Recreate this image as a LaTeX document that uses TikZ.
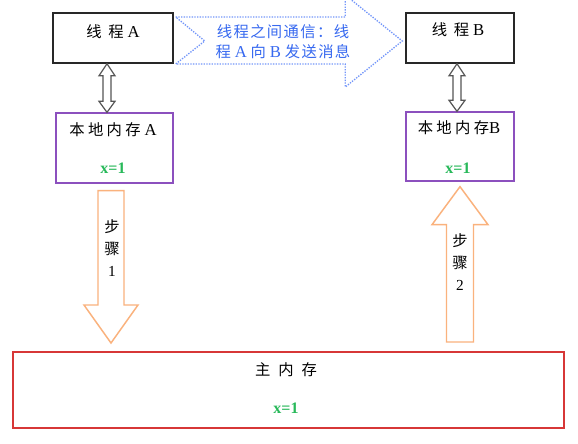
\documentclass[tikz,border=0pt]{standalone}
\usepackage{fontspec}
\setmainfont{Liberation Serif}
\newfontfamily\cjk{Noto Sans CJK SC}
\newfontfamily\cjkls[LetterSpace=9]{Noto Sans CJK SC}
\usetikzlibrary{calc}
\definecolor{boxblack}{RGB}{40,40,40}
\definecolor{lpurple}{RGB}{140,80,190}
\definecolor{mred}{RGB}{215,55,55}
\definecolor{sorange}{RGB}{250,178,125}
\definecolor{dblue}{RGB}{115,150,250}
\definecolor{tblue}{RGB}{55,105,240}
\definecolor{xgreen}{RGB}{40,185,90}
\definecolor{agray}{RGB}{85,85,85}
\newcommand{\zh}[1]{{\cjk #1}}
\newcommand{\gp}{\hspace{2.5pt}}
\begin{document}
\begin{tikzpicture}[x=0.75pt,y=-0.75pt,
  thread/.style={draw=boxblack, line width=1.1pt, fill=white, inner sep=0, minimum height=37.5pt},
  local/.style={draw=lpurple, line width=1pt, fill=white, inner sep=0},
  mainmem/.style={draw=mred, line width=1.5pt, fill=white, inner sep=0},
  lbl/.style={font=\fontsize{11.5}{13}\selectfont, inner sep=0},
  xval/.style={font=\bfseries\fontsize{12}{14}\selectfont, text=xgreen, inner sep=0},
  stepar/.style={draw=sorange, line width=1.1pt, fill=white},
  steptxt/.style={font=\fontsize{11.5}{16.5}\selectfont, align=center, inner sep=0},
  dblar/.style={draw=agray, line width=0.9pt, fill=white},
  msgar/.style={draw=dblue, line width=1pt, densely dotted, fill=white},
  msgtxt/.style={font=\fontsize{11.5}{15}\selectfont, text=tblue, align=center, inner sep=0}]
\useasboundingbox (0,0) rectangle (578,443);
\fill[white] (0,0) rectangle (578,443);

% boxes
\node[thread, minimum width=90pt] (ta) at (113,38) {};
\node[thread, minimum width=81pt] (tb) at (460,38) {};
\node[local, minimum width=87.75pt, minimum height=52.5pt] (la) at (114.5,148) {};
\node[local, minimum width=81pt, minimum height=51.75pt] (lb) at (460,146.5) {};
\node[mainmem, minimum width=413.25pt, minimum height=57pt] (mm) at (288.5,390) {};

% labels
\node[lbl] (tal) at (113,32) {\zh{线\hspace{5pt}程} {\fontsize{12.5}{13}\selectfont A}};
\node[lbl] (tbl) at (458,30) {\zh{线\hspace{5pt}程} {\fontsize{12.5}{13}\selectfont B}};
\node[lbl] (lal) at (113,130) {\zh{本\gp 地\gp 内\gp 存} {\fontsize{12.5}{13}\selectfont A}};
\node[xval] (lax) at (113,168) {x=1};
\node[lbl] (lbl) at (459,128) {\zh{本\gp 地\gp 内\gp 存}{\fontsize{12.5}{13}\selectfont B}};
\node[xval] (lbx) at (458,168) {x=1};
\node[lbl] (mml) at (286,370) {\zh{主\hspace{6pt}内\hspace{6pt}存}};
\node[xval] (mmx) at (286,408) {x=1};

% double arrows thread <-> local
\coordinate (d1t) at ($(ta.south)+(-6,0)$);
\coordinate (d1b) at (d1t |- la.north);
\draw[dblar] (d1t) -- ($(d1t)+(8,12)$) -- ($(d1t)+(4,12)$) -- ($(d1b)+(4,-11)$) -- ($(d1b)+(8,-11)$) -- (d1b)
  -- ($(d1b)+(-8,-11)$) -- ($(d1b)+(-4,-11)$) -- ($(d1t)+(-4,12)$) -- ($(d1t)+(-8,12)$) -- cycle;
\coordinate (d2t) at ($(tb.south)+(-3,0)$);
\coordinate (d2b) at (d2t |- lb.north);
\draw[dblar] (d2t) -- ($(d2t)+(8,12)$) -- ($(d2t)+(4,12)$) -- ($(d2b)+(4,-11)$) -- ($(d2b)+(8,-11)$) -- (d2b)
  -- ($(d2b)+(-8,-11)$) -- ($(d2b)+(-4,-11)$) -- ($(d2t)+(-4,12)$) -- ($(d2t)+(-8,12)$) -- cycle;

% message arrow
\coordinate (mL) at ($(ta.east)+(2,3)$);
\coordinate (mR) at ($(tb.west)+(-3,3)$);
\draw[msgar] ($(mL)+(0,-24)$) -- ($(mR)+(-57,-24)$) -- ($(mR)+(-57,-46)$) -- (mR) -- ($(mR)+(-57,46)$)
  -- ($(mR)+(-57,23)$) -- ($(mL)+(0,23)$) -- ($(mL)+(29,0)$) -- cycle;
\node[msgtxt] (msg) at (283,42) {{\cjkls 线程之间通信：线}\\{\cjkls 程} {\fontsize{12.5}{15}\selectfont A} {\cjkls 向} {\fontsize{12.5}{15}\selectfont B} {\cjkls 发送消息}};

% step 1 arrow (local A -> main)
\coordinate (s1top) at ($(la.south)+(-3.5,7)$);
\coordinate (s1tip) at ($(s1top |- mm.north)+(0,-8)$);
\draw[stepar] ($(s1top)+(-13,0)$) -- ($(s1top)+(13,0)$) -- ($(s1tip)+(13,-38)$) -- ($(s1tip)+(27,-38)$) -- (s1tip)
  -- ($(s1tip)+(-27,-38)$) -- ($(s1tip)+(-13,-38)$) -- cycle;
\node[steptxt] (s1l) at (112,248) {\zh{步}\\\zh{骤}\\1};

% step 2 arrow (main -> local B)
\coordinate (s2tip) at ($(lb.south)+(0,5)$);
\coordinate (s2bot) at ($(s2tip |- mm.north)+(0,-9)$);
\draw[stepar] (s2tip) -- ($(s2tip)+(28,38)$) -- ($(s2tip)+(13.5,38)$) -- ($(s2bot)+(13.5,0)$) -- ($(s2bot)+(-13.5,0)$)
  -- ($(s2tip)+(-13.5,38)$) -- ($(s2tip)+(-28,38)$) -- cycle;
\node[steptxt] (s2l) at (460,262) {\zh{步}\\\zh{骤}\\2};
\end{tikzpicture}
\end{document}
